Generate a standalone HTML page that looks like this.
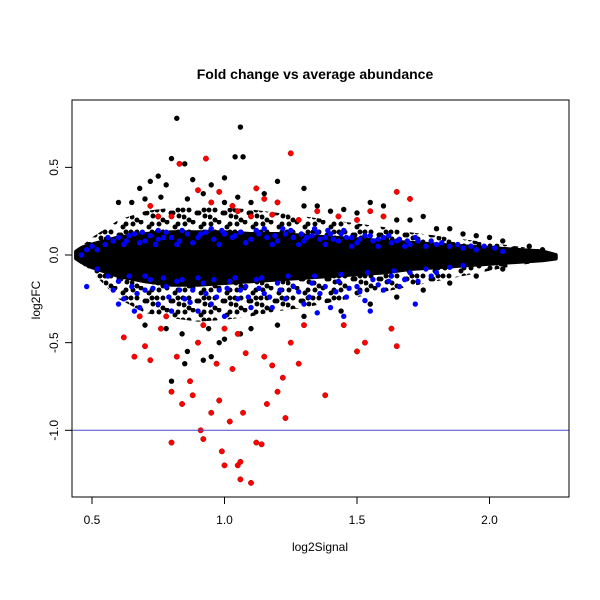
<!DOCTYPE html>
<html><head><meta charset="utf-8"><style>
body{margin:0;background:#fff}
svg{display:block;font-family:"Liberation Sans",Arial,sans-serif}
</style></head><body>
<svg id="chart" width="600" height="600" viewBox="0 0 600 600">
<defs>
<pattern id="dots" width="26" height="22" patternUnits="userSpaceOnUse">
<circle cx="3" cy="4" r="2.5" fill="#000"/><circle cx="11" cy="2" r="2.5" fill="#000"/><circle cx="19" cy="7" r="2.5" fill="#000"/>
<circle cx="7" cy="12" r="2.5" fill="#000"/><circle cx="15" cy="15" r="2.5" fill="#000"/><circle cx="23" cy="18" r="2.5" fill="#000"/>
<circle cx="2" cy="19" r="2.5" fill="#000"/><circle cx="22" cy="12" r="2.5" fill="#000"/>
</pattern>
<pattern id="dots2" width="26" height="22" patternUnits="userSpaceOnUse" patternTransform="translate(13,9)">
<circle cx="4" cy="6" r="2.5" fill="#000"/><circle cx="14" cy="3" r="2.5" fill="#000"/><circle cx="9" cy="17" r="2.5" fill="#000"/><circle cx="20" cy="13" r="2.5" fill="#000"/>
</pattern>
</defs>
<rect width="600" height="600" fill="#fff"/>
<text x="315" y="79" text-anchor="middle" font-size="14" font-weight="bold">Fold change vs average abundance</text>
<text x="320" y="551" text-anchor="middle" font-size="12">log2Signal</text>
<text transform="translate(40,300) rotate(-90)" text-anchor="middle" font-size="12">log2FC</text>
<g id="marks"></g>
<rect x="72" y="100" width="497" height="397" fill="none" stroke="#000"/>
<g id="axes"></g>
</svg>
<script>
const xTicks=[0.5,1.0,1.5,2.0];
const yTicks=[0.5,0.0,-0.5,-1.0];
const bandX=[0.44,0.46,0.5,0.6,0.7,0.8,0.9,1.0,1.1,1.2,1.3,1.4,1.5,1.6,1.7,1.8,1.9,2.0,2.1,2.2,2.25];
const bandHi=[0.02,0.04,0.06,0.1,0.12,0.13,0.13,0.13,0.12,0.12,0.11,0.1,0.09,0.08,0.07,0.06,0.05,0.04,0.03,0.02,0.0];
const bandLo=[-0.02,-0.04,-0.07,-0.12,-0.15,-0.17,-0.17,-0.16,-0.15,-0.14,-0.13,-0.12,-0.11,-0.1,-0.08,-0.07,-0.06,-0.05,-0.04,-0.03,-0.02];
const haloX=[0.46,0.5,0.6,0.7,0.8,0.9,1.0,1.1,1.2,1.3,1.4,1.5,1.6,1.7,1.8,1.9,2.0,2.1,2.2];
const haloHi=[0.05,0.1,0.2,0.25,0.27,0.27,0.27,0.26,0.24,0.22,0.2,0.18,0.16,0.13,0.11,0.09,0.07,0.05,0.03];
const haloLo=[-0.05,-0.1,-0.25,-0.33,-0.36,-0.38,-0.37,-0.35,-0.32,-0.3,-0.27,-0.24,-0.21,-0.18,-0.15,-0.12,-0.09,-0.06,-0.04];
const blackPts=[0.82,0.78,1.06,0.73,0.8,0.55,0.85,0.52,1.04,0.56,1.07,0.56,0.75,0.45,0.72,0.42,0.68,0.38,0.78,0.4,0.88,0.43,0.95,0.4,1.0,0.44,1.2,0.42,1.15,0.35,1.3,0.38,1.35,0.28,1.45,0.26,1.55,0.3,1.6,0.28,1.75,0.22,1.8,0.15,1.9,0.12,2.0,0.1,2.05,0.08,2.15,0.05,2.2,0.03,
0.6,0.3,0.65,0.3,0.7,0.32,0.76,0.33,0.86,0.32,0.92,0.35,1.0,0.3,1.05,0.33,1.1,0.3,1.2,0.3,1.3,0.28,1.4,0.25,1.5,0.24,1.65,0.2,1.7,0.2,1.85,0.15,1.95,0.11,
0.8,-0.72,0.84,-0.45,0.86,-0.55,0.92,-0.6,0.94,-0.42,0.98,-0.5,1.06,-0.45,1.2,-0.4,0.7,-0.4,0.78,-0.42,0.85,-0.62,0.9,-0.5,0.95,-0.58,1.0,-0.48,1.1,-0.42,1.3,-0.35,1.44,-0.32,1.55,-0.28,1.65,-0.24,1.75,-0.2,1.85,-0.16,1.95,-0.12,2.05,-0.08];
const bluePts=[0.46,0.0,0.48,0.03,0.5,0.05,0.52,0.03,0.55,0.06,0.58,0.08,0.6,0.1,0.63,0.08,0.66,0.12,0.7,0.08,0.72,0.11,0.75,0.09,0.78,0.13,0.8,0.1,0.83,0.08,0.86,0.12,0.9,0.1,0.93,0.13,0.96,0.09,1.0,0.12,1.03,0.1,1.06,0.13,1.1,0.09,1.13,0.12,1.16,0.1,1.2,0.08,1.23,0.12,1.26,0.1,1.3,0.08,1.33,0.11,1.36,0.09,1.4,0.12,1.43,0.08,1.46,0.1,1.5,0.07,1.53,0.11,1.56,0.08,1.6,0.1,1.63,0.07,1.66,0.09,1.7,0.06,1.73,0.08,1.76,0.05,1.8,0.06,1.85,0.05,1.9,0.04,1.95,0.03,2.05,0.02,
0.56,0.1,0.62,0.06,0.68,0.07,0.74,0.06,0.82,0.06,0.88,0.07,0.98,0.06,1.08,0.07,1.18,0.06,1.28,0.06,1.38,0.06,1.48,0.05,1.58,0.05,1.68,0.05,1.15,0.15,1.25,0.14,0.95,0.15,0.75,0.14,
0.64,0.11,0.69,0.13,0.77,0.1,0.84,0.14,0.91,0.12,0.99,0.14,1.04,0.11,1.12,0.14,1.19,0.11,1.22,0.15,1.29,0.12,1.31,0.1,1.35,0.13,1.38,0.1,1.41,0.09,1.44,0.12,1.48,0.1,1.51,0.09,1.55,0.11,1.58,0.09,1.62,0.11,1.65,0.08,1.69,0.08,1.72,0.1,1.78,0.08,1.82,0.07,1.88,0.06,1.93,0.05,1.98,0.05,2.02,0.04,1.34,0.15,1.39,0.14,1.45,0.14,
0.48,-0.18,0.52,-0.08,0.56,-0.12,0.6,-0.15,0.62,-0.25,0.65,-0.18,0.68,-0.3,0.7,-0.2,0.72,-0.14,0.75,-0.28,0.78,-0.18,0.8,-0.32,0.82,-0.15,0.85,-0.25,0.88,-0.2,0.9,-0.32,0.92,-0.16,0.95,-0.28,0.98,-0.2,1.0,-0.35,1.02,-0.15,1.05,-0.25,1.08,-0.18,1.1,-0.3,1.12,-0.14,1.15,-0.22,1.18,-0.3,1.2,-0.16,1.23,-0.25,1.26,-0.18,1.3,-0.28,1.33,-0.16,1.36,-0.22,1.4,-0.3,1.43,-0.15,1.46,-0.24,1.5,-0.18,1.53,-0.26,1.56,-0.14,1.6,-0.2,1.63,-0.12,1.66,-0.18,1.7,-0.1,1.73,-0.15,1.76,-0.08,1.8,-0.1,1.85,-0.07,1.9,-0.06,
0.58,-0.2,0.64,-0.12,0.7,-0.12,0.77,-0.13,0.84,-0.14,0.9,-0.13,0.96,-0.14,1.04,-0.13,1.14,-0.13,1.24,-0.12,1.34,-0.12,1.44,-0.11,1.54,-0.1,1.64,-0.09,1.72,-0.28,1.55,-0.32,1.45,-0.35,1.35,-0.33,0.6,-0.28,0.66,-0.32,
0.67,-0.22,0.73,-0.19,0.79,-0.24,0.83,-0.2,0.87,-0.27,0.93,-0.22,0.97,-0.24,1.01,-0.19,1.06,-0.2,1.09,-0.24,1.13,-0.19,1.17,-0.24,1.21,-0.2,1.28,-0.21,1.32,-0.24,1.38,-0.18,1.42,-0.21,1.47,-0.19,1.51,-0.21,1.58,-0.17,1.62,-0.15,1.68,-0.14,1.78,-0.12];
const redPts=[0.8,0.22,0.72,0.28,0.75,0.22,0.83,0.52,0.9,0.37,0.93,0.55,0.95,0.3,1.05,0.25,1.1,0.22,1.12,0.38,1.15,0.32,1.2,0.3,1.25,0.58,1.28,0.2,1.35,0.25,1.43,0.22,1.55,0.25,1.6,0.22,1.65,0.36,1.7,0.32,1.5,0.2,0.98,0.36,1.03,0.28,1.18,0.23,
0.62,-0.47,0.66,-0.58,0.7,-0.52,0.72,-0.6,0.76,-0.42,0.8,-0.78,0.8,-1.07,0.82,-0.58,0.84,-0.85,0.87,-0.72,0.88,-0.8,0.9,-0.5,0.91,-1.0,0.92,-1.05,0.95,-0.9,0.97,-0.62,0.98,-0.83,0.99,-1.12,1.0,-1.2,1.02,-0.95,1.03,-0.65,1.05,-1.2,1.06,-1.28,1.07,-0.9,1.08,-0.56,1.1,-1.3,1.12,-1.07,1.15,-0.58,1.16,-0.85,1.18,-0.63,1.2,-0.78,1.22,-0.7,1.23,-0.93,1.25,-0.5,1.28,-0.62,1.3,-0.4,1.38,-0.8,1.45,-0.4,1.5,-0.55,1.53,-0.5,1.63,-0.42,1.65,-0.52,0.92,-0.4,1.0,-0.42,1.05,-0.45,1.14,-1.08,1.06,-1.18,0.78,-0.35,0.68,-0.35];
const hLine=-1.0;

const NS='http://www.w3.org/2000/svg';
const X=v=>92+(v-0.5)*265;
const Y=v=>255-v*175.3;
const marks=document.getElementById('marks');
const axes=document.getElementById('axes');

function env(xs,hi,lo){
  let d='M'+xs.map((x,i)=>X(x)+','+Y(hi[i])).join('L');
  for(let i=xs.length-1;i>=0;i--) d+='L'+X(xs[i])+','+Y(lo[i]);
  return d+'Z';
}
['dots','dots2'].forEach(p=>{
  const halo=document.createElementNS(NS,'path');
  halo.setAttribute('d',env(haloX,haloHi,haloLo));halo.setAttribute('fill','url(#'+p+')');
  
  
  marks.appendChild(halo);
});

const band=document.createElementNS(NS,'path');
band.setAttribute('d',env(bandX,bandHi,bandLo));band.setAttribute('fill','#000');band.setAttribute('stroke','#000');band.setAttribute('stroke-width','4');band.setAttribute('stroke-linejoin','round');


marks.appendChild(band);

function pts(arr,fill,name){
  const g=document.createElementNS(NS,'g');
  
  
  for(let i=0;i<arr.length;i+=2){
    const c=document.createElementNS(NS,'circle');
    c.setAttribute('cx',X(arr[i]));c.setAttribute('cy',Y(arr[i+1]));c.setAttribute('r',2.7);c.setAttribute('fill',fill);
    if(fill==='#f00'){c.setAttribute('stroke','#a00');c.setAttribute('stroke-width','0.5');}
    
    
    g.appendChild(c);
  }
  marks.appendChild(g);
}
pts(blackPts,'#000','black-points');
pts(bluePts,'#00f','blue-points');
pts(redPts,'#f00','red-points');

const ln=document.createElementNS(NS,'line');
ln.setAttribute('x1',72);ln.setAttribute('x2',569);ln.setAttribute('y1',Y(hLine));ln.setAttribute('y2',Y(hLine));ln.setAttribute('stroke','#4a4ad0');


marks.appendChild(ln);

xTicks.forEach(t=>{
  const l=document.createElementNS(NS,'line');
  l.setAttribute('x1',X(t));l.setAttribute('x2',X(t));l.setAttribute('y1',497);l.setAttribute('y2',504);l.setAttribute('stroke','#000');
  
  
  axes.appendChild(l);
  const tx=document.createElementNS(NS,'text');
  tx.setAttribute('x',X(t));tx.setAttribute('y',524);tx.setAttribute('text-anchor','middle');tx.setAttribute('font-size','12');
  tx.textContent=t.toFixed(1);
  
  
  axes.appendChild(tx);
});
yTicks.forEach(t=>{
  const l=document.createElementNS(NS,'line');
  l.setAttribute('x1',65);l.setAttribute('x2',72);l.setAttribute('y1',Y(t));l.setAttribute('y2',Y(t));l.setAttribute('stroke','#000');
  
  
  axes.appendChild(l);
  const tx=document.createElementNS(NS,'text');
  tx.setAttribute('transform','translate(58,'+Y(t)+') rotate(-90)');tx.setAttribute('text-anchor','middle');tx.setAttribute('font-size','12');
  tx.textContent=t.toFixed(1);
  
  
  axes.appendChild(tx);
});
</script>
</body></html>
